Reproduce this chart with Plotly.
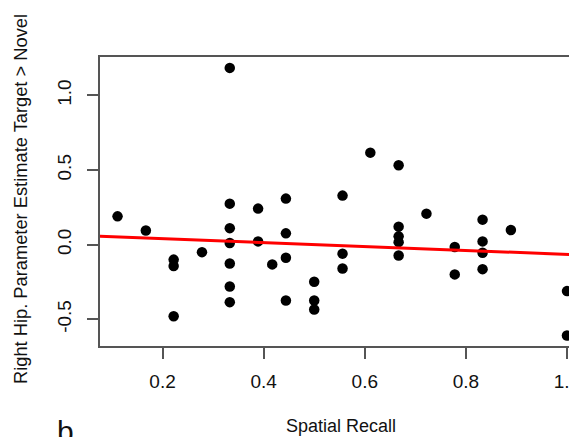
import plotly.graph_objects as go

# Spatial Recall (x) and Right Hip. parameter estimate Target > Novel (y)
recall = [0.111, 0.167,
          0.222, 0.222, 0.222,
          0.278,
          0.333, 0.333, 0.333, 0.333, 0.333, 0.333, 0.333,
          0.389, 0.389,
          0.417,
          0.444, 0.444, 0.444, 0.444,
          0.500, 0.500, 0.500,
          0.556, 0.556, 0.556,
          0.611,
          0.667, 0.667, 0.667, 0.667, 0.667,
          0.722,
          0.778, 0.778,
          0.833, 0.833, 0.833, 0.833,
          0.889,
          1.000, 1.000]
estimate = [0.19, 0.095,
            -0.10, -0.143, -0.48,
            -0.05,
            1.185, 0.275, 0.111, 0.011, -0.126, -0.28, -0.385,
            0.242, 0.022,
            -0.132,
            0.309, 0.076, -0.087, -0.374,
            -0.248, -0.374, -0.434,
            0.329, -0.06, -0.159,
            0.617,
            0.532, 0.121, 0.056, 0.017, -0.072,
            0.208,
            -0.016, -0.199,
            0.168, 0.022, -0.054, -0.164,
            0.098,
            -0.311, -0.609]

# regression line
fit_intercept = 0.066
fit_slope = -0.131
fit_x = [0.0, 1.1]
fit_y = [fit_intercept + fit_slope * v for v in fit_x]

x_ticks = [0.2, 0.4, 0.6, 0.8, 1.0]
x_ticktext = ["0.2", "0.4", "0.6", "0.8", "1.0"]
y_ticks = [-0.5, 0.0, 0.5, 1.0]
y_ticktext = ["-0.5", "0.0", "0.5", "1.0"]

FONT = "Liberation Sans, Arial, sans-serif"
AX = "#555555"

# the page body adds an 8px offset; plot area sits at window x=100..586, y=57..346
PL, PT, PW, PH = 100, 57, 485, 289


def px(xw):
    return (xw - PL) / PW


def py(yw):
    return (PT + PH - yw) / PH


fig = go.Figure()
fig.add_trace(go.Scatter(x=recall, y=estimate, mode="markers",
                         marker=dict(size=10.5, color="black"),
                         showlegend=False, cliponaxis=False))
fig.add_trace(go.Scatter(x=fit_x, y=fit_y, mode="lines",
                         line=dict(color="#ff0000", width=3),
                         showlegend=False))

fig.update_layout(
    width=577, height=437,
    margin=dict(l=92, r=0, t=49, b=99, pad=0, autoexpand=False),
    paper_bgcolor="white", plot_bgcolor="white",
    font=dict(family=FONT, color="#111111", size=18),
    xaxis=dict(range=[0.0763, 1.0356], tickvals=x_ticks, ticktext=x_ticktext,
               showline=True, linecolor=AX, linewidth=2, mirror=True,
               showgrid=False, zeroline=False, automargin=False,
               ticks="outside", ticklen=11, tickwidth=1.5, tickcolor=AX,
               tickfont=dict(size=19), ticklabelstandoff=6),
    yaxis=dict(range=[-0.679, 1.258], tickvals=y_ticks, ticktext=y_ticktext,
               showline=True, linecolor=AX, linewidth=2, mirror=False,
               showgrid=False, zeroline=False, tickangle=-90, automargin=False,
               ticks="outside", ticklen=11, tickwidth=1.5, tickcolor=AX,
               tickfont=dict(size=19), ticklabelstandoff=8),
    annotations=[
        dict(text="Right Hip. Parameter Estimate Target > Novel",
             xref="paper", yref="paper", x=px(20), y=py(199),
             xanchor="center", yanchor="middle", textangle=-90,
             showarrow=False, font=dict(size=18.3)),
        dict(text="Spatial Recall", xref="paper", yref="paper",
             x=px(341), y=py(426),
             xanchor="center", yanchor="middle", showarrow=False,
             font=dict(size=18)),
        dict(text="b", xref="paper", yref="paper",
             x=px(65), y=py(413),
             xanchor="center", yanchor="top", showarrow=False,
             font=dict(size=30)),
    ],
)

fig.write_html("out.html")
